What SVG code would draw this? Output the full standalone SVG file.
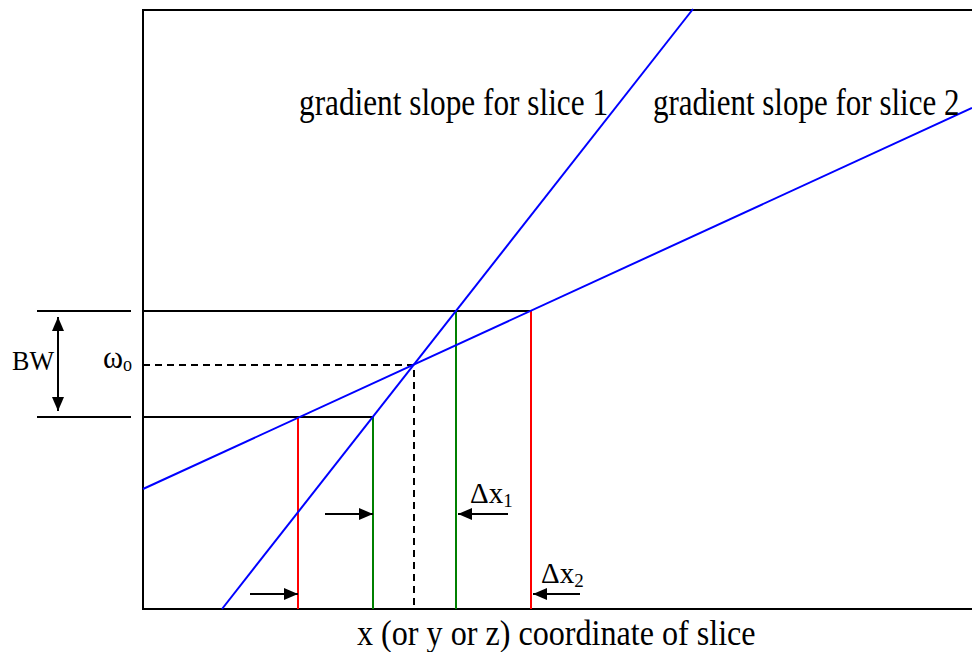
<svg xmlns="http://www.w3.org/2000/svg" width="972" height="652" viewBox="0 0 972 652">
<style>
.t{font-family:"Liberation Serif","Times New Roman",serif;fill:#000}
.k{stroke:#000;stroke-width:2;fill:none}
.b{stroke:#0000ff;stroke-width:2;fill:none}
.r{stroke:#ff0000;stroke-width:2}
.g{stroke:#008000;stroke-width:2}
.d{stroke:#000;stroke-width:2;stroke-dasharray:7,5;fill:none}
</style>
<defs>
<marker id="ah" viewBox="0 0 14 12" refX="14" refY="6" markerWidth="14" markerHeight="12" markerUnits="userSpaceOnUse" orient="auto-start-reverse">
<path d="M0,0 L14,6 L0,12 Z" fill="#000"/>
</marker>
</defs>
<g id="frame">
<path class="k" d="M143,609 V10 H972"/>
<path class="k" d="M142,609 H972"/>
</g>
<g id="connectors">
<line class="k" x1="37" y1="311" x2="131" y2="311"/>
<line class="k" x1="37" y1="417" x2="131" y2="417"/>
<line class="k" x1="143" y1="311" x2="531" y2="311"/>
<line class="k" x1="143" y1="417" x2="373" y2="417"/>
<line class="k" x1="58" y1="317" x2="58" y2="411" marker-start="url(#ah)" marker-end="url(#ah)"/>
<path class="d" d="M143,365 H414 V609"/>
<line class="r" x1="298" y1="417" x2="298" y2="609"/>
<line class="r" x1="531" y1="311" x2="531" y2="609"/>
<line class="g" x1="373" y1="417" x2="373" y2="609"/>
<line class="g" x1="456" y1="311" x2="456" y2="609"/>
<line class="b" x1="222" y1="609" x2="693" y2="9"/>
<line class="b" x1="143" y1="489" x2="972" y2="108"/>
<line class="k" x1="325" y1="514" x2="373" y2="514" marker-end="url(#ah)"/>
<line class="k" x1="250" y1="594" x2="298" y2="594" marker-end="url(#ah)"/>
<line class="k" x1="508" y1="514" x2="458" y2="514" marker-end="url(#ah)"/>
<line class="k" x1="580" y1="594" x2="533" y2="594" marker-end="url(#ah)"/>
</g>
<g id="labels">
<text class="t" transform="translate(299,115) scale(0.845,1)" font-size="37">gradient slope for slice 1</text>
<text class="t" transform="translate(653,115) scale(0.838,1)" font-size="37">gradient slope for slice 2</text>
<text class="t" transform="translate(357,645) scale(0.918,1)" font-size="35">x (or y or z) coordinate of slice</text>
<text class="t" x="12" y="370" font-size="27" textLength="42" lengthAdjust="spacingAndGlyphs">BW</text>
<text class="t" x="103" y="368" font-size="31" textLength="20" lengthAdjust="spacingAndGlyphs">ω</text>
<text class="t" x="123" y="371" font-size="20" textLength="9" lengthAdjust="spacingAndGlyphs">o</text>
<text class="t" x="470" y="503" font-size="29">Δx<tspan font-size="19" dy="4">1</tspan></text>
<text class="t" x="541" y="583" font-size="29">Δx<tspan font-size="19" dy="4">2</tspan></text>
</g>
</svg>
